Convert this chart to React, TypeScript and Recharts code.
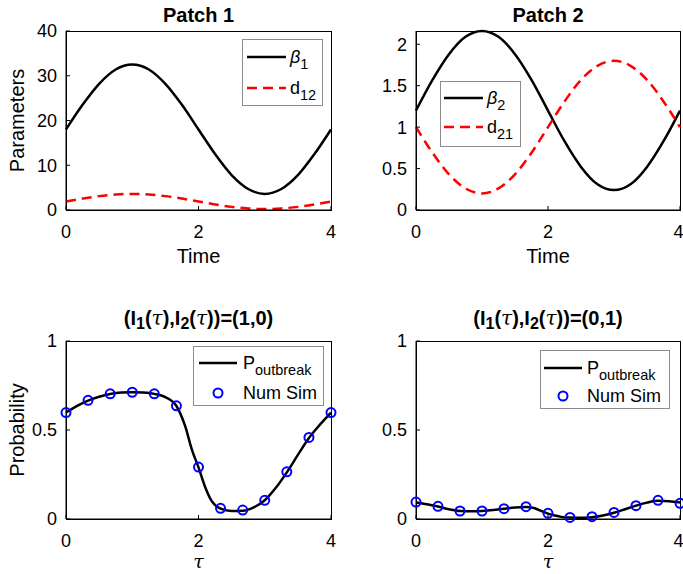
import React from 'react';
import { ComposedChart, Line, Scatter, XAxis, YAxis, Legend, Label } from 'recharts';

const FONT = '"Liberation Sans", Arial, Helvetica, sans-serif';

// top row: seasonal parameters over one period
const timeSteps = [0, 0.25, 0.5, 0.75, 1, 1.25, 1.5, 1.75, 2, 2.25, 2.5, 2.75, 3, 3.25, 3.5, 3.75, 4];
const beta1 = [18, 23.5, 28.2, 31.4, 32.5, 31.4, 28.2, 23.5, 18, 12.5, 7.8, 4.7, 3.6, 4.7, 7.8, 12.5, 18];
const d12 = [1.9, 2.55, 3.1, 3.45, 3.6, 3.45, 3.1, 2.55, 1.9, 1.25, 0.7, 0.35, 0.2, 0.35, 0.7, 1.25, 1.9];
const beta2 = [1.2, 1.57, 1.88, 2.09, 2.16, 2.09, 1.88, 1.57, 1.2, 0.83, 0.52, 0.31, 0.24, 0.31, 0.52, 0.83, 1.2];
const d21 = [1, 0.69, 0.43, 0.26, 0.2, 0.26, 0.43, 0.69, 1, 1.31, 1.57, 1.74, 1.8, 1.74, 1.57, 1.31, 1];

// bottom row: outbreak probability vs introduction time
const tauCurve = [0, 0.167, 0.333, 0.5, 0.667, 0.833, 1, 1.167, 1.333, 1.5, 1.667, 1.8, 1.9, 2, 2.1, 2.2, 2.333, 2.5, 2.667, 2.833, 3, 3.167, 3.333, 3.5, 3.667, 3.833, 4];
const pOutbreak10 = [0.598, 0.635, 0.665, 0.687, 0.702, 0.71, 0.712, 0.71, 0.703, 0.685, 0.635, 0.52, 0.39, 0.29, 0.18, 0.1, 0.058, 0.045, 0.046, 0.065, 0.105, 0.175, 0.262, 0.36, 0.455, 0.53, 0.598];
const pOutbreak01 = [0.093, 0.083, 0.07, 0.055, 0.045, 0.043, 0.045, 0.05, 0.058, 0.065, 0.068, 0.06, 0.045, 0.03, 0.02, 0.012, 0.008, 0.007, 0.01, 0.02, 0.035, 0.055, 0.075, 0.092, 0.102, 0.1, 0.093];
const tauSim = [0, 0.333, 0.667, 1, 1.333, 1.667, 2, 2.333, 2.667, 3, 3.333, 3.667, 4];
const sim10 = [0.598, 0.667, 0.703, 0.712, 0.703, 0.636, 0.292, 0.06, 0.05, 0.105, 0.265, 0.458, 0.598];
const sim01 = [0.095, 0.071, 0.045, 0.045, 0.058, 0.069, 0.032, 0.009, 0.013, 0.037, 0.075, 0.105, 0.088];

const xTicks = [0, 2, 4];
const paramTicks = [0, 10, 20, 30, 40];
const patch2Ticks = [0, 0.5, 1, 1.5, 2];
const probTicks = [0, 0.5, 1];

const toPoints = (xs: number[], ys: number[]) => xs.map((t, i) => ({ t, v: ys[i] }));

const tickStyle = { fontSize: 18, fill: '#000', fontFamily: FONT };
const TICK_LEN = 4;
const axisStroke = { stroke: '#000', strokeWidth: 1 };

const Sub = ({ children }: { children: React.ReactNode }) => (
  <span style={{ fontSize: 14.5, position: 'relative', top: 6 }}>{children}</span>
);

type Row = { kind: 'solid' | 'dash' | 'ring'; y: number; label: React.ReactNode };

const LegendBox = ({ width, height, rows, lineX, textX }: { width: number; height: number; rows: Row[]; lineX: [number, number]; textX: number }) => (
  <div style={{ position: 'relative', width, height, boxSizing: 'border-box', border: '1px solid #8c8c8c', background: '#fff', fontFamily: FONT, fontSize: 18, color: '#000' }}>
    <svg width={width} height={height} style={{ position: 'absolute', left: -1, top: -1 }}>
      {rows.map((r, i) =>
        r.kind === 'ring' ? (
          <circle key={i} cx={(lineX[0] + lineX[1]) / 2} cy={r.y} r={4.5} fill="none" stroke="#0000ff" strokeWidth={2} />
        ) : (
          <line key={i} x1={lineX[0]} x2={lineX[1]} y1={r.y} y2={r.y} stroke={r.kind === 'dash' ? '#ff0000' : '#000'} strokeWidth={2.5} strokeDasharray={r.kind === 'dash' ? '10 6' : undefined} />
        )
      )}
    </svg>
    {rows.map((r, i) => (
      <span key={i} style={{ position: 'absolute', left: textX - 1, top: r.y - 12, lineHeight: '22px', whiteSpace: 'nowrap' }}>
        {r.label}
      </span>
    ))}
  </div>
);

type Plot = { x0: number; y0: number; x1: number; y1: number };

type PanelProps = {
  left: number;
  top: number;
  width: number;
  height: number;
  plot: Plot;
  yDomain: [number, number];
  yTicks: number[];
  yLabel?: string;
  xLabel: React.ReactNode;
  xLabelY: number;
  title: React.ReactNode;
  titleY: number;
  legend: React.ReactNode;
  legendPos: { left: number; top: number; width: number; height: number };
  children: React.ReactNode;
};

const Panel = (p: PanelProps) => {
  const cx = (p.plot.x0 + p.plot.x1) / 2;
  const cy = (p.plot.y0 + p.plot.y1) / 2;
  return (
    <div style={{ position: 'absolute', left: p.left, top: p.top, width: p.width, height: p.height }}>
      {/* axes box (MATLAB "box on"); thin SVG strokes did not show up, so the frame is a plain border */}
      <div style={{
        position: 'absolute', left: p.plot.x0, top: p.plot.y0, width: p.plot.x1 - p.plot.x0 + 1,
        height: p.plot.y1 - p.plot.y0 + 1, boxSizing: 'border-box', border: '1px solid #000', pointerEvents: 'none',
      }} />
      <div style={{ position: 'absolute', left: 0, top: 0 }}>
        <ComposedChart width={p.width} height={p.height} margin={{ top: p.plot.y0, right: p.width - p.plot.x1, bottom: 0, left: 0 }}>
          <XAxis type="number" dataKey="t" domain={[0, 4]} ticks={xTicks} height={p.height - p.plot.y1}
            axisLine={axisStroke} tickLine={axisStroke} tickSize={-TICK_LEN} tickMargin={19} tick={tickStyle}>
            <Label content={() => (
              <text x={cx} y={p.xLabelY} textAnchor="middle" fontSize={20} fontFamily={FONT} fill="#000">{p.xLabel}</text>
            )} />
            <Label content={() => (
              <text x={cx} y={p.titleY} textAnchor="middle" fontSize={20} fontWeight="bold" fontFamily={FONT} fill="#000">{p.title}</text>
            )} />
          </XAxis>
          <YAxis type="number" domain={p.yDomain} ticks={p.yTicks} width={p.plot.x0}
            axisLine={axisStroke} tickLine={axisStroke} tickSize={-TICK_LEN} tickMargin={13} tick={tickStyle}>
            {p.yLabel && (
              <Label content={() => (
                <text x={24} y={cy} transform={`rotate(-90 24 ${cy})`} textAnchor="middle" fontSize={20} fontFamily={FONT} fill="#000">{p.yLabel}</text>
              )} />
            )}
          </YAxis>
          {p.children}
          <Legend layout="vertical" align="center" verticalAlign="middle"
            wrapperStyle={{ left: p.legendPos.left, top: p.legendPos.top, width: p.legendPos.width, height: p.legendPos.height }}
            content={() => p.legend} />
        </ComposedChart>
      </div>
    </div>
  );
};

const ring = (props: any) => (
  <circle cx={props.cx} cy={props.cy} r={4.5} fill="none" stroke="#0000ff" strokeWidth={2} />
);

const TauLabel = <tspan fontStyle="italic" fontFamily="DejaVu Serif, serif" fontSize={19}>τ</tspan>;

const ProbTitle = ({ a, b }: { a: string; b: string }) => (
  <>
    <tspan>(I</tspan>
    <tspan fontSize={16} dy={4}>1</tspan>
    <tspan dy={-4}>(</tspan>
    <tspan fontStyle="italic" fontWeight="normal" fontFamily="DejaVu Serif, serif">τ</tspan>
    <tspan>),I</tspan>
    <tspan fontSize={16} dy={4}>2</tspan>
    <tspan dy={-4}>(</tspan>
    <tspan fontStyle="italic" fontWeight="normal" fontFamily="DejaVu Serif, serif">τ</tspan>
    <tspan>{`))=(${a},${b})`}</tspan>
  </>
);

const lineProps = { type: 'monotone' as const, dataKey: 'v', dot: false, strokeWidth: 2.5, isAnimationActive: false };

export default function App() {
  return (
    <div style={{ position: 'absolute', left: 0, top: 0, width: 683, height: 574, background: '#fff', fontFamily: FONT, overflow: 'hidden' }}>
      <Panel left={0} top={0} width={341} height={287} plot={{ x0: 66, y0: 31, x1: 331, y1: 210 }}
        yDomain={[0, 40]} yTicks={paramTicks} yLabel="Parameters" xLabel="Time" xLabelY={263}
        title="Patch 1" titleY={22}
        legendPos={{ left: 242, top: 39, width: 81, height: 67 }}
        legend={
          <LegendBox width={81} height={67} lineX={[5, 44]} textX={48} rows={[
            { kind: 'solid', y: 18, label: <><i>β</i><Sub>1</Sub></> },
            { kind: 'dash', y: 49, label: <>d<Sub>12</Sub></> },
          ]} />
        }>
        <Line data={toPoints(timeSteps, beta1)} stroke="#000" {...lineProps} />
        <Line data={toPoints(timeSteps, d12)} stroke="#ff0000" strokeDasharray="10 6" {...lineProps} />
      </Panel>

      <Panel left={341} top={0} width={342} height={287} plot={{ x0: 75, y0: 31, x1: 339, y1: 210 }}
        yDomain={[0, 2.16]} yTicks={patch2Ticks} xLabel="Time" xLabelY={263}
        title="Patch 2" titleY={22}
        legendPos={{ left: 99, top: 81, width: 81, height: 66 }}
        legend={
          <LegendBox width={81} height={66} lineX={[4, 43]} textX={47} rows={[
            { kind: 'solid', y: 17, label: <><i>β</i><Sub>2</Sub></> },
            { kind: 'dash', y: 46, label: <>d<Sub>21</Sub></> },
          ]} />
        }>
        <Line data={toPoints(timeSteps, beta2)} stroke="#000" {...lineProps} />
        <Line data={toPoints(timeSteps, d21)} stroke="#ff0000" strokeDasharray="10 6" {...lineProps} />
      </Panel>

      <Panel left={0} top={287} width={341} height={287} plot={{ x0: 66, y0: 54, x1: 331, y1: 232 }}
        yDomain={[0, 1]} yTicks={probTicks} yLabel="Probability" xLabel={TauLabel} xLabelY={281}
        title={<ProbTitle a="1" b="0" />} titleY={38}
        legendPos={{ left: 193, top: 59, width: 131, height: 60 }}
        legend={
          <LegendBox width={131} height={60} lineX={[6, 44]} textX={50} rows={[
            { kind: 'solid', y: 17, label: <>P<Sub>outbreak</Sub></> },
            { kind: 'ring', y: 47, label: 'Num Sim' },
          ]} />
        }>
        <Line data={toPoints(tauCurve, pOutbreak10)} stroke="#000" {...lineProps} />
        <Scatter data={toPoints(tauSim, sim10)} dataKey="v" shape={ring} isAnimationActive={false} />
      </Panel>

      <Panel left={341} top={287} width={342} height={287} plot={{ x0: 75, y0: 54, x1: 339, y1: 232 }}
        yDomain={[0, 1]} yTicks={probTicks} xLabel={TauLabel} xLabelY={281}
        title={<ProbTitle a="0" b="1" />} titleY={38}
        legendPos={{ left: 199, top: 63, width: 130, height: 59 }}
        legend={
          <LegendBox width={130} height={59} lineX={[4, 42]} textX={47} rows={[
            { kind: 'solid', y: 18, label: <>P<Sub>outbreak</Sub></> },
            { kind: 'ring', y: 46, label: 'Num Sim' },
          ]} />
        }>
        <Line data={toPoints(tauCurve, pOutbreak01)} stroke="#000" {...lineProps} />
        <Scatter data={toPoints(tauSim, sim01)} dataKey="v" shape={ring} isAnimationActive={false} />
      </Panel>
    </div>
  );
}
